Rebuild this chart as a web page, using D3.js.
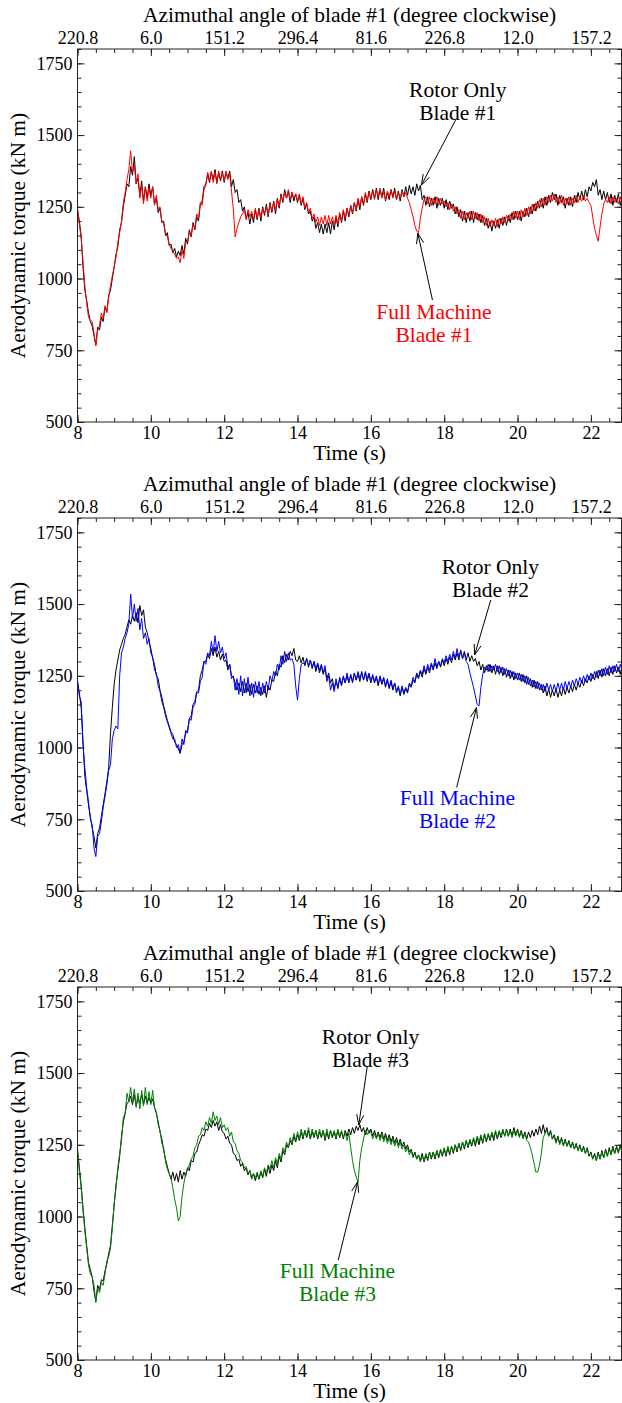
<!DOCTYPE html>
<html>
<head>
<meta charset="utf-8">
<script src="https://cdn.jsdelivr.net/npm/d3@7"></script>
<style>
  body { margin: 0; background: #fff; }
</style>
</head>
<body>
<svg></svg>
<script>
// samples every 0.05 s from 8.00 s, one row per second
var tStart = 8, tStep = 0.05;

var timeTicks = [8, 10, 12, 14, 16, 18, 20, 22];
var azimuthLabels = ["220.8", "6.0", "151.2", "296.4", "81.6", "226.8", "12.0", "157.2"];
var torqueTicks = [500, 750, 1000, 1250, 1500, 1750];

var bladeNames = ["Blade #1", "Blade #2", "Blade #3"];
var fullColors = ["#ff0000", "#0000ff", "#008000"];

// rotor only (kN m)
var rotor1 = [
  1240, 1200, 1150, 1040, 960, 925, 880, 850, 835, 800, 770, 830, 820, 865, 850, 900, 885, 940, 960, 1000,
  1040, 1085, 1110, 1170, 1195, 1250, 1290, 1330, 1320, 1390, 1360, 1425, 1330, 1350, 1290, 1340, 1270, 1320, 1280, 1330,
  1290, 1320, 1260, 1280, 1230, 1245, 1195, 1200, 1150, 1160, 1115, 1120, 1090, 1105, 1075, 1095, 1080, 1115, 1085, 1140,
  1120, 1170, 1145, 1195, 1170, 1215, 1200, 1260, 1270, 1320, 1330, 1365, 1335, 1370, 1345, 1380, 1335, 1370, 1340, 1375,
  1335, 1370, 1350, 1375, 1320, 1345, 1300, 1310, 1265, 1275, 1235, 1250, 1210, 1230, 1190, 1225, 1195, 1240, 1205, 1245,
  1200, 1250, 1220, 1260, 1215, 1265, 1230, 1270, 1225, 1280, 1245, 1295, 1265, 1310, 1280, 1305, 1265, 1300, 1270, 1295,
  1265, 1290, 1255, 1280, 1240, 1260, 1225, 1235, 1200, 1215, 1175, 1195, 1160, 1190, 1155, 1190, 1160, 1195, 1155, 1200,
  1170, 1215, 1180, 1225, 1195, 1235, 1200, 1245, 1215, 1255, 1225, 1265, 1235, 1275, 1240, 1285, 1255, 1295, 1265, 1305,
  1275, 1310, 1280, 1315, 1275, 1310, 1285, 1315, 1270, 1300, 1275, 1310, 1285, 1315, 1275, 1305, 1270, 1310, 1285, 1320,
  1290, 1325, 1295, 1320, 1290, 1330, 1305, 1325, 1275, 1290, 1255, 1285, 1250, 1280, 1255, 1285, 1245, 1280, 1255, 1280,
  1245, 1275, 1240, 1270, 1245, 1260, 1225, 1250, 1215, 1240, 1200, 1235, 1195, 1230, 1200, 1235, 1195, 1230, 1205, 1225,
  1195, 1220, 1185, 1210, 1175, 1200, 1165, 1200, 1175, 1205, 1175, 1210, 1185, 1215, 1185, 1220, 1195, 1230, 1205, 1235,
  1205, 1235, 1200, 1235, 1215, 1245, 1215, 1250, 1225, 1260, 1235, 1270, 1245, 1280, 1245, 1285, 1255, 1290, 1265, 1300,
  1275, 1295, 1255, 1290, 1265, 1285, 1245, 1280, 1255, 1285, 1250, 1290, 1265, 1300, 1275, 1305, 1275, 1310, 1285, 1320,
  1305, 1335, 1320, 1345, 1290, 1310, 1275, 1305, 1275, 1300, 1265, 1295, 1255, 1290, 1265, 1295, 1255, 1285, 1250, 1275
];
var rotor2 = [
  1230, 1190, 1140, 1020, 900, 850, 800, 760, 720, 690, 650, 700, 720, 760, 800, 840, 880, 930, 1050, 1140,
  1220, 1270, 1305, 1340, 1360, 1380, 1395, 1420, 1445, 1430, 1460, 1440, 1470, 1435, 1495, 1460, 1480, 1420, 1400, 1370,
  1345, 1310, 1290, 1250, 1240, 1200, 1175, 1145, 1120, 1095, 1075, 1055, 1045, 1020, 1010, 995, 980, 1010, 1020, 1050,
  1060, 1100, 1110, 1150, 1160, 1195, 1200, 1250, 1270, 1300, 1300, 1325, 1310, 1345, 1320, 1350, 1315, 1335, 1305, 1325,
  1300, 1305, 1270, 1290, 1250, 1245, 1225, 1200, 1225, 1195, 1230, 1190, 1225, 1195, 1220, 1185, 1220, 1190, 1215, 1185,
  1210, 1185, 1215, 1175, 1215, 1200, 1235, 1230, 1265, 1250, 1290, 1280, 1320, 1295, 1325, 1305, 1335, 1320, 1345, 1305,
  1300, 1320, 1295, 1315, 1285, 1310, 1280, 1305, 1275, 1300, 1265, 1290, 1260, 1285, 1255, 1275, 1240, 1260, 1225, 1240,
  1205, 1230, 1210, 1240, 1215, 1245, 1225, 1250, 1225, 1255, 1230, 1260, 1235, 1255, 1230, 1265, 1235, 1260, 1230, 1255,
  1225, 1250, 1225, 1245, 1215, 1245, 1220, 1240, 1210, 1235, 1205, 1230, 1200, 1225, 1195, 1210, 1180, 1210, 1185, 1205,
  1190, 1220, 1210, 1235, 1225, 1255, 1240, 1265, 1245, 1275, 1255, 1280, 1260, 1290, 1270, 1295, 1275, 1300, 1280, 1305,
  1285, 1310, 1290, 1315, 1295, 1325, 1305, 1330, 1305, 1340, 1310, 1335, 1305, 1330, 1300, 1320, 1300, 1310, 1285, 1300,
  1270, 1290, 1260, 1285, 1265, 1290, 1260, 1285, 1255, 1285, 1255, 1280, 1250, 1275, 1245, 1270, 1240, 1265, 1235, 1260,
  1235, 1260, 1230, 1255, 1225, 1250, 1220, 1240, 1210, 1235, 1205, 1230, 1200, 1220, 1190, 1215, 1180, 1205, 1175, 1200,
  1180, 1205, 1175, 1200, 1180, 1210, 1185, 1210, 1190, 1215, 1195, 1220, 1200, 1225, 1210, 1235, 1215, 1240, 1225, 1250,
  1230, 1255, 1235, 1265, 1240, 1270, 1245, 1275, 1250, 1275, 1250, 1280, 1255, 1285, 1260, 1280, 1255, 1285, 1260, 1280
];
var rotor3 = [
  1230, 1170, 1110, 1030, 960, 900, 840, 815, 790, 740, 705, 760, 745, 780, 775, 810, 835, 870, 900, 970,
  1040, 1110, 1160, 1210, 1280, 1330, 1360, 1395, 1400, 1420, 1390, 1425, 1385, 1415, 1395, 1425, 1390, 1420, 1395, 1415,
  1395, 1410, 1380, 1360, 1330, 1295, 1270, 1230, 1200, 1175, 1150, 1130, 1155, 1125, 1150, 1120, 1160, 1130, 1155, 1140,
  1170, 1160, 1195, 1190, 1220, 1225, 1250, 1265, 1285, 1280, 1305, 1300, 1325, 1310, 1335, 1315, 1330, 1300, 1320, 1295,
  1290, 1270, 1280, 1255, 1250, 1220, 1215, 1195, 1200, 1175, 1185, 1160, 1170, 1145, 1160, 1135, 1150, 1125, 1150, 1130,
  1155, 1135, 1165, 1140, 1175, 1150, 1180, 1160, 1195, 1170, 1210, 1190, 1230, 1215, 1250, 1240, 1265, 1250, 1280, 1260,
  1285, 1265, 1295, 1270, 1300, 1275, 1300, 1270, 1295, 1275, 1300, 1270, 1295, 1275, 1300, 1265, 1295, 1270, 1300, 1275,
  1295, 1270, 1300, 1275, 1295, 1270, 1300, 1280, 1305, 1285, 1310, 1290, 1315, 1300, 1320, 1295, 1310, 1285, 1310, 1290,
  1305, 1280, 1300, 1275, 1295, 1275, 1295, 1270, 1290, 1265, 1285, 1260, 1280, 1255, 1275, 1250, 1270, 1245, 1260, 1235,
  1250, 1225, 1235, 1210, 1225, 1200, 1215, 1195, 1220, 1190, 1215, 1195, 1225, 1200, 1225, 1200, 1230, 1205, 1230, 1210,
  1235, 1210, 1240, 1215, 1245, 1220, 1250, 1225, 1255, 1230, 1260, 1235, 1265, 1240, 1265, 1245, 1270, 1245, 1275, 1250,
  1280, 1255, 1285, 1260, 1285, 1265, 1290, 1265, 1295, 1270, 1295, 1275, 1300, 1280, 1305, 1280, 1305, 1280, 1310, 1285,
  1305, 1280, 1300, 1275, 1295, 1270, 1295, 1275, 1300, 1280, 1305, 1285, 1315, 1290, 1320, 1290, 1310, 1280, 1300, 1270,
  1285, 1260, 1280, 1255, 1275, 1250, 1270, 1245, 1265, 1240, 1260, 1235, 1255, 1230, 1250, 1225, 1245, 1220, 1240, 1210,
  1225, 1200, 1220, 1195, 1225, 1200, 1230, 1205, 1235, 1210, 1240, 1215, 1245, 1220, 1245, 1225, 1250, 1225, 1250, 1230
];

// full machine (kN m)
var full1 = [
  1245, 1190, 1140, 1060, 975, 915, 865, 855, 850, 810, 765, 820, 835, 880, 860, 905, 880, 935, 975, 1010,
  1040, 1075, 1125, 1160, 1200, 1265, 1300, 1345, 1380, 1445, 1370, 1395, 1330, 1365, 1280, 1325, 1260, 1320, 1270, 1315,
  1280, 1320, 1255, 1290, 1240, 1250, 1200, 1190, 1160, 1145, 1120, 1105, 1095, 1085, 1070, 1075, 1055, 1100, 1070, 1125,
  1130, 1160, 1150, 1190, 1175, 1225, 1210, 1265, 1255, 1310, 1325, 1370, 1340, 1375, 1335, 1370, 1330, 1375, 1345, 1370,
  1340, 1375, 1345, 1365, 1305, 1240, 1145, 1175, 1195, 1215, 1225, 1240, 1205, 1240, 1215, 1235, 1205, 1245, 1210, 1240,
  1215, 1245, 1225, 1250, 1220, 1260, 1235, 1265, 1240, 1275, 1250, 1290, 1270, 1300, 1280, 1310, 1275, 1300, 1280, 1295,
  1270, 1295, 1260, 1285, 1245, 1265, 1230, 1245, 1210, 1225, 1195, 1215, 1185, 1215, 1190, 1220, 1185, 1220, 1190, 1215,
  1185, 1220, 1190, 1230, 1200, 1240, 1210, 1245, 1220, 1255, 1230, 1265, 1240, 1280, 1250, 1285, 1260, 1300, 1270, 1300,
  1280, 1305, 1275, 1310, 1285, 1315, 1280, 1300, 1275, 1305, 1285, 1310, 1280, 1305, 1275, 1300, 1280, 1305, 1285, 1300,
  1280, 1265, 1240, 1215, 1185, 1165, 1160, 1210, 1245, 1275, 1285, 1260, 1285, 1255, 1280, 1260, 1285, 1255, 1280, 1260,
  1270, 1250, 1265, 1240, 1260, 1235, 1250, 1225, 1240, 1210, 1235, 1205, 1230, 1210, 1235, 1205, 1235, 1210, 1230, 1200,
  1225, 1195, 1215, 1185, 1210, 1180, 1205, 1185, 1210, 1180, 1210, 1190, 1215, 1195, 1220, 1200, 1225, 1205, 1235, 1210,
  1235, 1205, 1240, 1215, 1245, 1220, 1250, 1225, 1260, 1235, 1265, 1245, 1275, 1250, 1280, 1255, 1285, 1265, 1290, 1270,
  1295, 1265, 1285, 1260, 1290, 1255, 1280, 1260, 1285, 1255, 1280, 1265, 1290, 1265, 1285, 1270, 1290, 1270, 1280, 1265,
  1255, 1215, 1175, 1150, 1130, 1180, 1225, 1260, 1275, 1265, 1285, 1260, 1285, 1265, 1280, 1260, 1285, 1260, 1280, 1265
];
var full2 = [
  1235, 1180, 1160, 1010, 930, 860, 810, 750, 730, 650, 620, 690, 700, 740, 790, 830, 870, 920, 940, 1030,
  1060, 1075, 1065, 1250, 1330, 1350, 1380, 1400, 1430, 1535, 1450, 1500, 1440, 1485, 1410, 1450, 1380, 1400, 1360, 1380,
  1330, 1315, 1270, 1260, 1215, 1195, 1160, 1140, 1110, 1090, 1070, 1050, 1030, 1030, 1000, 1010, 980, 1030, 1010, 1060,
  1050, 1100, 1095, 1140, 1150, 1190, 1190, 1230, 1245, 1300, 1290, 1330, 1320, 1370, 1330, 1390, 1335, 1370, 1330, 1350,
  1310, 1330, 1280, 1290, 1240, 1250, 1200, 1240, 1185, 1250, 1180, 1240, 1190, 1245, 1180, 1225, 1175, 1230, 1190, 1230,
  1180, 1225, 1190, 1230, 1200, 1250, 1230, 1265, 1250, 1290, 1270, 1320, 1290, 1335, 1300, 1330, 1305, 1310, 1290, 1215,
  1165, 1240, 1290, 1295, 1290, 1310, 1285, 1305, 1280, 1300, 1275, 1295, 1270, 1290, 1260, 1285, 1230, 1250, 1200, 1225,
  1195, 1240, 1205, 1245, 1220, 1250, 1225, 1260, 1230, 1250, 1225, 1260, 1235, 1265, 1240, 1260, 1235, 1265, 1240, 1260,
  1230, 1255, 1230, 1250, 1220, 1250, 1225, 1245, 1215, 1240, 1210, 1235, 1205, 1225, 1190, 1215, 1185, 1215, 1190, 1210,
  1195, 1225, 1215, 1245, 1230, 1260, 1245, 1270, 1255, 1285, 1260, 1290, 1270, 1295, 1275, 1310, 1280, 1300, 1285, 1310,
  1295, 1320, 1300, 1325, 1305, 1335, 1310, 1345, 1315, 1335, 1310, 1330, 1300, 1290, 1260, 1235, 1210, 1180, 1150, 1145,
  1210, 1255, 1280, 1270, 1290, 1265, 1285, 1270, 1290, 1265, 1285, 1260, 1280, 1255, 1275, 1250, 1270, 1245, 1265, 1240,
  1260, 1235, 1255, 1230, 1250, 1220, 1245, 1215, 1235, 1210, 1230, 1205, 1225, 1200, 1220, 1195, 1225, 1200, 1220, 1195,
  1220, 1195, 1225, 1200, 1225, 1200, 1230, 1205, 1230, 1210, 1235, 1215, 1240, 1220, 1245, 1225, 1250, 1230, 1255, 1235,
  1260, 1240, 1265, 1245, 1270, 1250, 1275, 1250, 1280, 1255, 1285, 1260, 1285, 1265, 1290, 1265, 1290, 1270, 1285, 1265
];
var full3 = [
  1235, 1160, 1100, 1020, 950, 890, 830, 800, 790, 760, 700, 750, 735, 770, 760, 800, 845, 860, 890, 960,
  1045, 1100, 1170, 1220, 1265, 1345, 1360, 1430, 1400, 1450, 1395, 1445, 1380, 1430, 1375, 1440, 1385, 1450, 1390, 1435,
  1390, 1440, 1380, 1365, 1320, 1300, 1255, 1240, 1190, 1165, 1150, 1135, 1100, 1060, 1030, 985, 1000, 1070, 1115, 1150,
  1165, 1180, 1200, 1210, 1240, 1250, 1280, 1285, 1310, 1300, 1330, 1315, 1345, 1325, 1365, 1335, 1350, 1320, 1345, 1310,
  1320, 1300, 1310, 1280, 1295, 1260, 1255, 1230, 1220, 1195, 1190, 1170, 1175, 1150, 1160, 1130, 1150, 1135, 1155, 1130,
  1160, 1140, 1170, 1150, 1180, 1165, 1195, 1170, 1205, 1185, 1220, 1200, 1240, 1225, 1260, 1240, 1275, 1255, 1290, 1265,
  1295, 1270, 1305, 1275, 1300, 1280, 1310, 1275, 1305, 1280, 1300, 1275, 1305, 1280, 1300, 1270, 1305, 1275, 1300, 1280,
  1300, 1275, 1305, 1280, 1300, 1275, 1295, 1265, 1290, 1240, 1195, 1160, 1138, 1120, 1195, 1240, 1270, 1300, 1285, 1300,
  1295, 1270, 1290, 1270, 1290, 1265, 1285, 1260, 1280, 1255, 1275, 1250, 1270, 1245, 1265, 1240, 1260, 1235, 1250, 1225,
  1240, 1215, 1230, 1205, 1220, 1200, 1215, 1190, 1210, 1195, 1220, 1200, 1225, 1205, 1225, 1205, 1230, 1210, 1235, 1215,
  1240, 1215, 1245, 1220, 1245, 1225, 1250, 1230, 1255, 1235, 1260, 1240, 1265, 1245, 1270, 1250, 1275, 1255, 1280, 1260,
  1285, 1260, 1290, 1265, 1290, 1270, 1295, 1275, 1300, 1275, 1300, 1280, 1305, 1280, 1300, 1280, 1300, 1275, 1300, 1280,
  1300, 1275, 1295, 1270, 1290, 1265, 1260, 1240, 1215, 1185, 1155, 1155, 1180, 1220, 1275, 1290, 1300, 1280, 1295, 1270,
  1280, 1255, 1275, 1250, 1270, 1245, 1265, 1245, 1260, 1240, 1255, 1235, 1250, 1230, 1245, 1225, 1240, 1220, 1235, 1215,
  1220, 1200, 1215, 1195, 1220, 1200, 1225, 1205, 1230, 1210, 1235, 1215, 1240, 1220, 1240, 1220, 1245, 1225, 1245, 1225
];

var rotorSeries = [rotor1, rotor2, rotor3];
var fullSeries = [full1, full2, full3];

// callouts in data units: text [time, torque line 1, torque line 2], arrow [[tail], [tip]]
var rotorText = [[18.37, 1660, 1580], [19.26, 1632, 1552], [15.99, 1628, 1548]];
var rotorArrow = [[[18.31, 1552], [17.38, 1326]], [[19.27, 1514], [18.83, 1323]], [[15.90, 1522], [15.67, 1319]]];
var fullText = [[17.72, 886, 806], [18.36, 826, 746], [15.09, 813, 733]];
var fullArrow = [[[17.68, 925], [17.28, 1158]], [[18.34, 861], [18.88, 1139]], [[15.11, 848], [15.64, 1121]]];

var W = 622, H = 1403,
    left = 77.5, right = 621.5,
    plotH = 373, firstTop = 49, panelStep = 469;
var serif = '"Liberation Serif", "Times New Roman", Times, serif';

var svg = d3.select("svg").attr("width", W).attr("height", H);

var x = d3.scaleLinear()
  .domain([tStart, tStart + (right - left) / 36.67])
  .range([left, right]);

var minorT = d3.range(8, 23, 0.5);
var minorV = d3.range(500, 1801, 50);

for (var p = 0; p < 3; p++) {
  drawPanel(p);
}

function drawPanel(p) {
  var top = firstTop + p * panelStep,
      bottom = top + plotH;

  var y = d3.scaleLinear().domain([500, 1800]).range([bottom, top]);
  var g = svg.append("g");

  g.append("clipPath").attr("id", "clip" + p)
    .append("rect")
    .attr("x", left).attr("y", top)
    .attr("width", right - left).attr("height", plotH);

  var line = d3.line()
    .x(function(d, i) { return x(tStart + i * tStep); })
    .y(function(d) { return y(d); });

  var curves = g.append("g").attr("clip-path", "url(#clip" + p + ")");
  curves.append("path")
    .attr("d", line(rotorSeries[p]))
    .attr("fill", "none").attr("stroke", "#000").attr("stroke-width", 1);
  curves.append("path")
    .attr("d", line(fullSeries[p]))
    .attr("fill", "none").attr("stroke", fullColors[p]).attr("stroke-width", 1);

  // axes, ticks pointing inward
  var fmt = function(d) { return d; };
  g.append("g").attr("transform", "translate(0," + bottom + ")")
    .call(d3.axisBottom(x).tickValues(minorT).tickSize(-4).tickFormat(""));
  g.append("g").attr("transform", "translate(0," + bottom + ")")
    .call(d3.axisBottom(x).tickValues(timeTicks).tickSize(-7).tickPadding(4).tickFormat(fmt));

  g.append("g").attr("transform", "translate(0," + top + ")")
    .call(d3.axisTop(x).tickValues(minorT).tickSize(-4).tickFormat(""));
  g.append("g").attr("transform", "translate(0," + top + ")")
    .call(d3.axisTop(x).tickValues(timeTicks).tickSize(-7).tickPadding(5)
      .tickFormat(function(d, i) { return azimuthLabels[i]; }));

  g.append("g").attr("transform", "translate(" + left + ",0)")
    .call(d3.axisLeft(y).tickValues(minorV).tickSize(-4).tickFormat(""));
  g.append("g").attr("transform", "translate(" + left + ",0)")
    .call(d3.axisLeft(y).tickValues(torqueTicks).tickSize(-7).tickPadding(5).tickFormat(fmt));

  g.append("g").attr("transform", "translate(" + right + ",0)")
    .call(d3.axisRight(y).tickValues(minorV).tickSize(-4).tickFormat(""));
  g.append("g").attr("transform", "translate(" + right + ",0)")
    .call(d3.axisRight(y).tickValues(torqueTicks).tickSize(-7).tickFormat(""));

  g.selectAll(".domain").remove();
  g.selectAll(".tick line").attr("stroke", "#222");
  g.selectAll(".tick text")
    .style("font-family", serif).style("font-size", "18px").style("fill", "#000");

  g.append("rect")
    .attr("x", left).attr("y", top)
    .attr("width", right - left).attr("height", plotH)
    .attr("fill", "none").attr("stroke", "#222").attr("stroke-width", 1);

  var mid = (left + right) / 2;
  label(g.append("text").attr("x", mid).attr("y", top - 27))
    .text("Azimuthal angle of blade #1 (degree clockwise)");
  label(g.append("text").attr("x", mid).attr("y", bottom + 38))
    .text("Time (s)");
  label(g.append("text")
    .attr("transform", "translate(17," + (top + bottom) / 2 + ") rotate(-90)")
    .attr("dy", "0.35em"))
    .text("Aerodynamic torque (kN m)");

  callout(g, y, rotorText[p], ["Rotor Only", bladeNames[p]], "#000", rotorArrow[p]);
  callout(g, y, fullText[p], ["Full Machine", bladeNames[p]], fullColors[p], fullArrow[p]);
}

function label(sel) {
  return sel.attr("text-anchor", "middle")
    .style("font-family", serif).style("font-size", "21.5px").style("fill", "#000");
}

function callout(g, y, t, lines, color, arrow) {
  var txt = label(g.append("text")).style("fill", color);
  lines.forEach(function(s, i) {
    txt.append("tspan")
      .attr("x", x(t[0])).attr("y", y(t[1 + i]))
      .attr("dy", "0.35em")
      .text(s);
  });

  var x1 = x(arrow[0][0]), y1 = y(arrow[0][1]),
      x2 = x(arrow[1][0]), y2 = y(arrow[1][1]);
  var ang = Math.atan2(y1 - y2, x1 - x2), len = 11, spread = 0.33;

  g.append("line")
    .attr("x1", x1).attr("y1", y1).attr("x2", x2).attr("y2", y2)
    .attr("stroke", "#000").attr("stroke-width", 1);
  [-spread, spread].forEach(function(a) {
    g.append("line")
      .attr("x1", x2).attr("y1", y2)
      .attr("x2", x2 + len * Math.cos(ang + a))
      .attr("y2", y2 + len * Math.sin(ang + a))
      .attr("stroke", "#000").attr("stroke-width", 1);
  });
}
</script>
</body>
</html>
